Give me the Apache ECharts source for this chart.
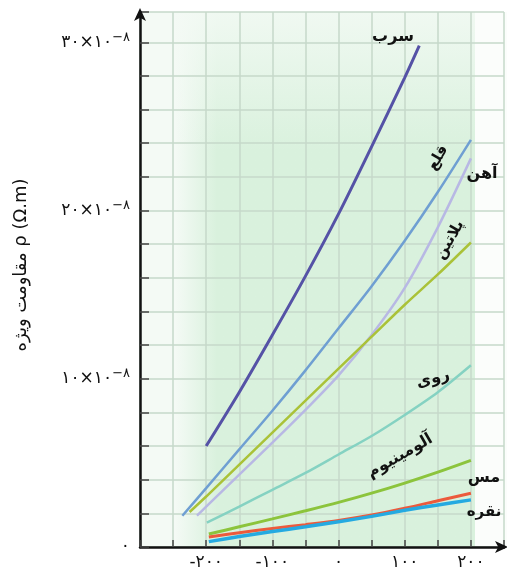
<!DOCTYPE html>
<html><head><meta charset="utf-8">
<script src="https://cdn.jsdelivr.net/npm/echarts@6/dist/echarts.min.js"></script>
<style>html,body{margin:0;padding:0;background:#fff}#c{width:507px;height:572px}</style>
</head><body><div id="c"></div><script>
// ---- data (temperature °C, resistivity ×10^-8 Ω·m) ----
const leadT = [-200,-150,-100,-50,0,50,100,122];
const leadV = [6.0,9.2,12.6,16.1,19.8,23.8,27.9,29.8];
const tinT = [-236,-200,-150,-100,-50,0,50,100,150,200];
const tinV = [1.86,3.5,5.8,8.1,10.5,13.0,15.5,18.2,21.1,24.2];
const ironT = [-214,-200,-150,-100,-50,0,50,100,150,200];
const ironV = [1.86,2.4,4.3,6.2,8.15,10.2,12.6,15.4,19.0,23.1];
const platT = [-225,-200,-150,-100,-50,0,50,100,150,200];
const platV = [2.08,3.0,4.9,6.8,8.7,10.6,12.5,14.4,16.2,18.1];
const zincT = [-199,-150,-100,-50,0,50,100,150,200];
const zincV = [1.45,2.4,3.4,4.4,5.5,6.6,7.85,9.2,10.8];
const alT = [-196,-150,-100,-50,0,50,100,150,200];
const alV = [0.77,1.2,1.67,2.15,2.65,3.2,3.8,4.45,5.15];
const cuT = [-196,-150,-100,-50,0,50,100,150,200];
const cuV = [0.6,0.85,1.1,1.33,1.58,1.9,2.3,2.75,3.2];
const agT = [-196,-150,-100,-50,0,50,100,150,200];
const agV = [0.32,0.62,0.92,1.2,1.5,1.82,2.18,2.5,2.8];
const xTickLabels = {'-200':'-۲۰۰','-100':'-۱۰۰','0':'۰','100':'۱۰۰','200':'۲۰۰'};
const yTickLabels = {'0':'۰','10':'۱۰','20':'۲۰','30':'۳۰'};
const names = ['سرب','قلع','آهن','پلاتین','روی','آلومینیوم','مس','نقره'];
const yName = 'مقاومت ویژه ρ (Ω.m)';

const pair = (t, v) => t.map((x, i) => [x, v[i]]);
const FONT = 'DejaVu Sans';
const chart = echarts.init(document.getElementById('c'), null, {renderer: 'canvas'});

function ser(name, t, v, color, w) {
  return {type: 'line', name, data: pair(t, v), smooth: 0.3, showSymbol: false, symbol: 'none',
    lineStyle: {color, width: w}, z: 5};
}
function lbl(text, x, y, rotDeg, size) {
  return {type: 'text', x, y, rotation: (rotDeg || 0) * Math.PI / 180, z: 20,
    style: {text, fill: '#111', font: 'bold ' + (size || 15) + 'px "' + FONT + '"', textAlign: 'center', textVerticalAlign: 'middle'}};
}

chart.setOption({
  animation: false,
  backgroundColor: '#fff',
  grid: {left: 140, right: 0, top: 12, bottom: 25},
  xAxis: {
    type: 'value', min: -300, max: 250, interval: 50,
    axisLine: {show: true, onZero: false, lineStyle: {color: '#111', width: 2.5}, symbol: ['none', 'arrow'], symbolSize: [9, 13], symbolOffset: [0, 4]},
    axisTick: {show: true, inside: true, length: 7, lineStyle: {color: '#444', width: 1.5}},
    splitLine: {show: true, lineStyle: {color: '#c6d8ca', width: 1.5}},
    axisLabel: {margin: 7, fontFamily: FONT, fontSize: 17, color: '#111',
      formatter: v => xTickLabels[String(v)] || ''}
  },
  yAxis: {
    type: 'value', min: 0, max: 31.8, interval: 2,
    axisLine: {show: true, onZero: false, lineStyle: {color: '#111', width: 2.5}, symbol: ['none', 'arrow'], symbolSize: [9, 13], symbolOffset: [0, 4]},
    axisTick: {show: true, inside: true, length: 9, lineStyle: {color: '#444', width: 1.5}},
    splitLine: {show: true, lineStyle: {color: '#c6d8ca', width: 1.5}},
    axisLabel: {margin: 10, fontFamily: FONT, fontSize: 17, color: '#111',
      formatter: v => {
        const k = String(v);
        if (!yTickLabels[k]) return '';
        if (v === 0) return yTickLabels[k];
        return '{a|' + yTickLabels[k] + '×۱۰}{s|−۸}';
      },
      rich: {a: {fontFamily: FONT, fontSize: 17, color: '#111'}, s: {fontFamily: FONT, fontSize: 13, color: '#111', padding: [0, 0, 10, 0]}}
    }
  },
  graphic: [
    {type: 'rect', z: -10, silent: true, shape: {x: 140, y: 12, width: 367, height: 535}, style: {fill: '#f4faf5'}},
    {type: 'rect', z: -9, silent: true, shape: {x: 175, y: 12, width: 300, height: 535},
      style: {fill: new echarts.graphic.LinearGradient(0, 0, 1, 0, [
        {offset: 0, color: 'rgba(208,238,213,0)'}, {offset: 0.14, color: 'rgba(208,238,213,0.75)'},
        {offset: 1, color: 'rgba(208,238,213,0.75)'}])}},
    {type: 'rect', z: -8, silent: true, shape: {x: 175, y: 12, width: 300, height: 140},
      style: {fill: new echarts.graphic.LinearGradient(0, 0, 0, 1, [
        {offset: 0, color: 'rgba(244,250,245,0.85)'}, {offset: 1, color: 'rgba(244,250,245,0)'}])}},
    {type: 'rect', z: -8, silent: true, shape: {x: 475, y: 12, width: 32, height: 535}, style: {fill: '#fbfdfb'}},
    {type: 'text', x: 21, y: 265, rotation: Math.PI / 2, z: 20,
      style: {text: yName, fill: '#111', font: '18px "' + FONT + '"', textAlign: 'center', textVerticalAlign: 'middle'}},
    lbl(names[0], 393, 37, 0, 16),
    lbl(names[1], 438, 158, 60, 15),
    lbl(names[2], 482, 174, 0, 16),
    lbl(names[3], 450, 240, 60, 15),
    lbl(names[4], 433, 379, 15, 16),
    lbl(names[5], 400, 456, 30, 16),
    lbl(names[6], 484, 478, 0, 16),
    lbl(names[7], 484, 512, 0, 15)
  ],
  series: [
    ser(names[0], leadT, leadV, '#5552a6', 3),
    ser(names[1], tinT, tinV, '#6f9fd2', 2.5),
    ser(names[2], ironT, ironV, '#b8b8e4', 2.5),
    ser(names[3], platT, platV, '#aac238', 2.5),
    ser(names[4], zincT, zincV, '#85d2c2', 2.5),
    ser(names[5], alT, alV, '#8cc43c', 3),
    ser(names[6], cuT, cuV, '#ec5a3c', 3),
    ser(names[7], agT, agV, '#25aae1', 3.5)
  ]
});
</script></body></html>
